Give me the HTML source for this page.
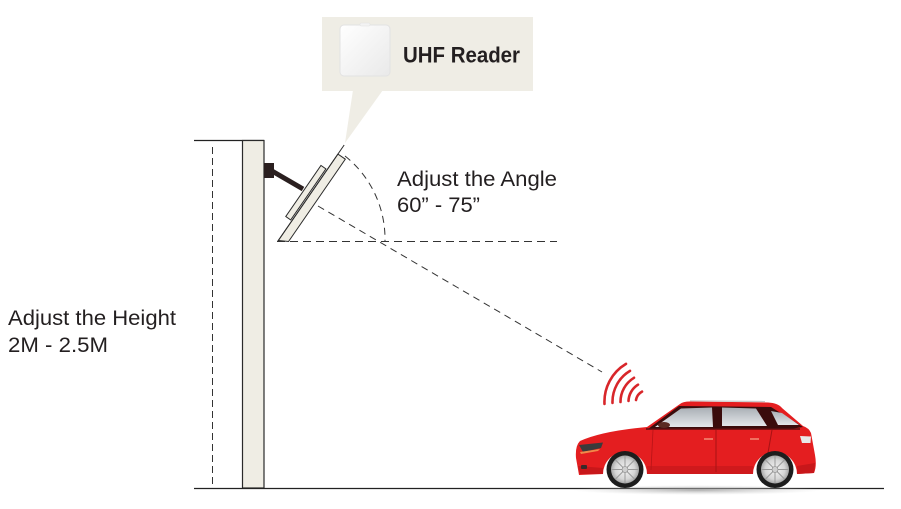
<!DOCTYPE html>
<html>
<head>
<meta charset="utf-8">
<style>
  html,body{margin:0;padding:0;background:#fff;}
  svg{display:block;}
  text{font-family:"Liberation Sans", Arial, sans-serif;fill:#231f20;}
</style>
</head>
<body>
<svg width="901" height="509" viewBox="0 0 901 509" xmlns="http://www.w3.org/2000/svg">
  <defs>
    <linearGradient id="winG" x1="0" y1="0" x2="0" y2="1">
      <stop offset="0" stop-color="#a9afb5"/>
      <stop offset="1" stop-color="#e4e7ea"/>
    </linearGradient>
    <radialGradient id="rimG" cx="0.5" cy="0.5" r="0.5">
      <stop offset="0" stop-color="#f4f4f4"/>
      <stop offset="0.7" stop-color="#d6d6d6"/>
      <stop offset="1" stop-color="#a8a8a8"/>
    </radialGradient>
    <linearGradient id="iconG" x1="0" y1="0" x2="1" y2="1">
      <stop offset="0" stop-color="#ffffff"/>
      <stop offset="1" stop-color="#e9e9e9"/>
    </linearGradient>
    <radialGradient id="shadowG" cx="0.5" cy="0.5" r="0.5">
      <stop offset="0" stop-color="#9a9a9a" stop-opacity="0.8"/>
      <stop offset="1" stop-color="#cccccc" stop-opacity="0"/>
    </radialGradient>
  </defs>

  <!-- Callout -->
  <rect x="322" y="17" width="211" height="74" fill="#efede5"/>
  <polygon points="353,90 383,90 345,143" fill="#efede5"/>
  <rect x="340" y="25" width="50" height="51" rx="4" fill="url(#iconG)" stroke="#e2e2e2" stroke-width="1"/>
  <rect x="360" y="23" width="10" height="3" rx="1" fill="#f3f3f3" stroke="#e0e0e0" stroke-width="0.5"/>
  <text x="403" y="62.5" font-size="22" font-weight="bold" textLength="117" lengthAdjust="spacingAndGlyphs">UHF Reader</text>

  <!-- Top line & pole -->
  <line x1="194" y1="140.5" x2="264" y2="140.5" stroke="#222" stroke-width="1.2"/>
  <rect x="242.5" y="140.5" width="21.5" height="347.5" fill="#efede4" stroke="#2a2a2a" stroke-width="1.2"/>
  <line x1="212.5" y1="147" x2="212.5" y2="488" stroke="#333" stroke-width="1" stroke-dasharray="7 4"/>

  <!-- Ground -->
  <line x1="194" y1="488.5" x2="884" y2="488.5" stroke="#222" stroke-width="1.2"/>

  <!-- Bracket -->
  <rect x="264" y="163" width="10" height="15" fill="#2a1f1f"/>
  <line x1="272" y1="171" x2="303" y2="189" stroke="#2a1f1f" stroke-width="5"/>

  <!-- Dashed lines -->
  <line x1="277" y1="241.5" x2="557" y2="241.5" stroke="#333" stroke-width="1" stroke-dasharray="8 5"/>
  <path d="M 345 156 A 106 106 0 0 1 385 241" fill="none" stroke="#333" stroke-width="1" stroke-dasharray="7 5"/>
  <line x1="318" y1="206" x2="602" y2="372" stroke="#333" stroke-width="1" stroke-dasharray="7 5"/>

  <!-- Reader plates -->
  <g transform="translate(278.3,240.5) rotate(-55.4)">
    <rect x="24" y="-7.5" width="62" height="6" fill="#efede4" stroke="#2a2a2a" stroke-width="1"/>
    <polygon points="0,0 105,0 105,9 5,9" fill="#efede4" stroke="#2a2a2a" stroke-width="1"/>
    <line x1="-1" y1="0" x2="116" y2="0" stroke="#2a2a2a" stroke-width="1"/>
  </g>

  <!-- Labels -->
  <text x="397" y="186" font-size="21" textLength="160" lengthAdjust="spacingAndGlyphs">Adjust the Angle</text>
  <text x="397" y="212" font-size="21" textLength="83" lengthAdjust="spacingAndGlyphs">60” - 75”</text>
  <text x="8" y="325" font-size="21" textLength="168" lengthAdjust="spacingAndGlyphs">Adjust the Height</text>
  <text x="8" y="352" font-size="21" textLength="100" lengthAdjust="spacingAndGlyphs">2M - 2.5M</text>

  <!-- Signal waves -->
  <g fill="none" stroke="#d8262a" stroke-width="2.6" stroke-linecap="round">
    <path d="M 636 400 A 12 12 0 0 1 642 391.6"/>
    <path d="M 628.5 401 A 20 20 0 0 1 638 384.7"/>
    <path d="M 620.5 402 A 28 28 0 0 1 634 377.8"/>
    <path d="M 612.5 403 A 36 36 0 0 1 630 370.9"/>
    <path d="M 604.5 404 A 44 44 0 0 1 626 363.9"/>
  </g>

  <!-- Car shadow -->
  <ellipse cx="697" cy="490" rx="125" ry="5" fill="url(#shadowG)"/>

  <!-- Car body -->
  <path d="M 579 475 L 576 458 Q 575 446 580 441 Q 602 431 647 427 L 680 404 Q 683 401.5 690 401.5 L 768 402.5 Q 778 403 782 408 L 803 426 Q 809 428 811 433 L 815 455 Q 817 466 814 473 L 797 474 A 22 22 0 0 0 753 474 L 647 474 A 22 22 0 0 0 603 474 Z" fill="#e41e20"/>
  <!-- lower shade -->
  <path d="M 578 466 L 603 468 L 603 474 L 580 474 Z" fill="#c8171a"/>
  <path d="M 647 466 L 753 466 L 753 474 L 647 474 Z" fill="#cf191c"/>
  <path d="M 797 466 L 815 463 L 814 473 L 797 474 Z" fill="#c8171a"/>
  <!-- roof rail -->
  <line x1="690" y1="400.8" x2="765" y2="401.5" stroke="#c9c9c9" stroke-width="1.2"/>

  <!-- greenhouse -->
  <polygon points="648,429 679,406 771,407 803,427 790,429" fill="#3a0c0c"/>
  <polygon points="655,427 681,408.5 712,407.5 713,427" fill="url(#winG)"/>
  <polygon points="722,407.5 756,408.5 767,426 722,426" fill="url(#winG)"/>
  <polygon points="771,411 782,413 799,425 778,425" fill="url(#winG)"/>
  <ellipse cx="664" cy="425" rx="6" ry="3" fill="#5a2a22"/>
  <line x1="646" y1="429" x2="800" y2="429" stroke="#5a0f10" stroke-width="1.5"/>

  <!-- door lines -->
  <line x1="716" y1="430" x2="716" y2="472" stroke="#a81214" stroke-width="1"/>
  <line x1="772" y1="430" x2="765" y2="470" stroke="#a81214" stroke-width="1"/>
  <line x1="653" y1="430" x2="651" y2="470" stroke="#b81416" stroke-width="0.8"/>
  <rect x="704" y="438" width="9" height="2" fill="#f07060"/>
  <rect x="750" y="438" width="9" height="2" fill="#f07060"/>

  <!-- lights -->
  <path d="M 579 445 L 603 442.5 L 601 448 L 583 452 Z" fill="#3b3b3b"/>
  <path d="M 580 452 L 600 449 L 598 451 L 581 454 Z" fill="#f08a4a"/>
  <rect x="581" y="465" width="6" height="4" rx="1" fill="#3a2a2a"/>
  <path d="M 800 436 L 811 436.5 L 810.5 443 L 802 443 Z" fill="#e8e8e8"/>

  <!-- wheels -->
  <g>
    <circle cx="625" cy="469.5" r="18.5" fill="#1d1d1d"/>
    <circle cx="625" cy="469.5" r="14" fill="url(#rimG)"/>
    <g stroke="#9a9a9a" stroke-width="1">
      <line x1="625" y1="456" x2="625" y2="483"/>
      <line x1="611.5" y1="469.5" x2="638.5" y2="469.5"/>
      <line x1="615.5" y1="460" x2="634.5" y2="479"/>
      <line x1="634.5" y1="460" x2="615.5" y2="479"/>
    </g>
    <circle cx="625" cy="469.5" r="3" fill="#cfcfcf" stroke="#888" stroke-width="0.6"/>
  </g>
  <g>
    <circle cx="775" cy="469.5" r="18.5" fill="#1d1d1d"/>
    <circle cx="775" cy="469.5" r="14" fill="url(#rimG)"/>
    <g stroke="#9a9a9a" stroke-width="1">
      <line x1="775" y1="456" x2="775" y2="483"/>
      <line x1="761.5" y1="469.5" x2="788.5" y2="469.5"/>
      <line x1="765.5" y1="460" x2="784.5" y2="479"/>
      <line x1="784.5" y1="460" x2="765.5" y2="479"/>
    </g>
    <circle cx="775" cy="469.5" r="3" fill="#cfcfcf" stroke="#888" stroke-width="0.6"/>
  </g>
</svg>
</body>
</html>
